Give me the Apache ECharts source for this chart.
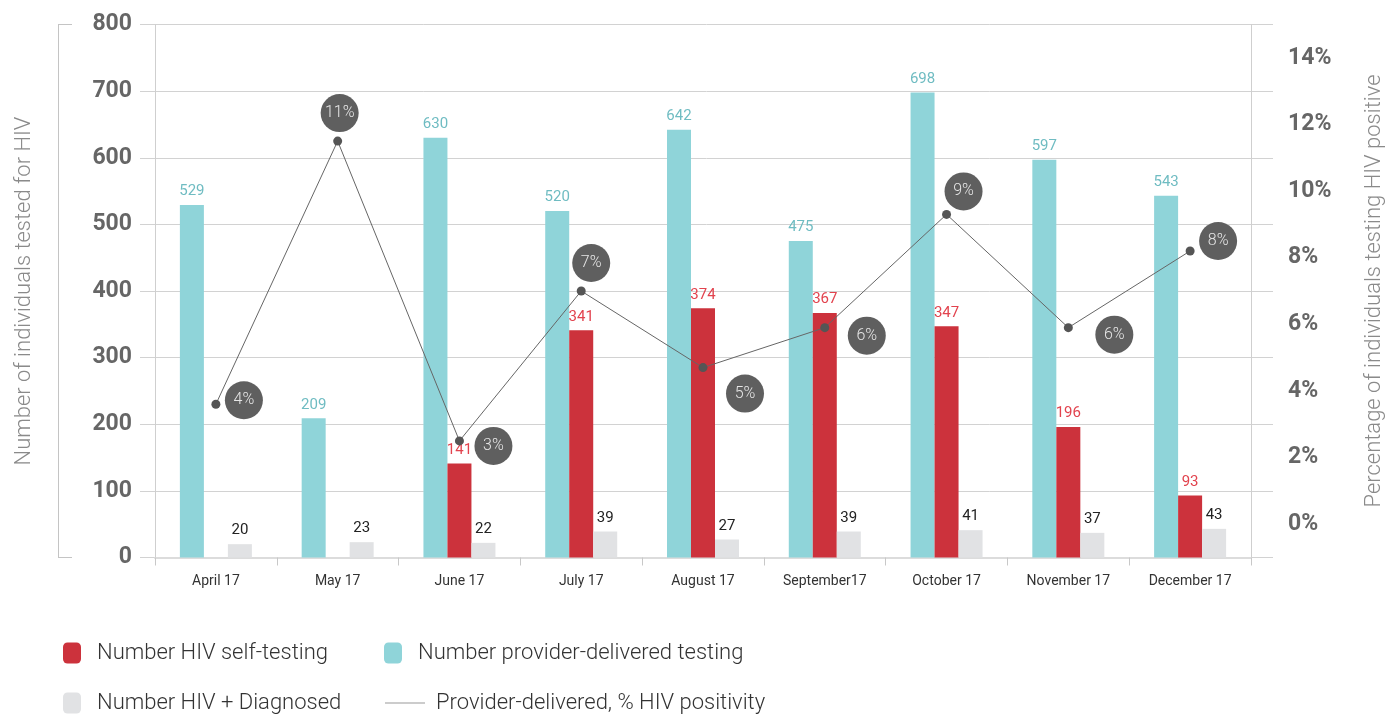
<!DOCTYPE html>
<html><head><meta charset="utf-8">
<script src="https://cdn.jsdelivr.net/npm/echarts@6/dist/echarts.min.js"></script>
<style>html,body{margin:0;padding:0;background:#fff}#c{width:1386px;height:715px}</style>
</head><body><div id="c"></div>
<script>
const categories = ['April 17','May 17','June 17','July 17','August 17','September17','October 17','November 17','December 17'];
const providerTesting = [529,209,630,520,642,475,698,597,543];
const selfTesting = [null,null,141,341,374,367,347,196,93];
const diagnosed = [20,23,22,39,27,39,41,37,43];
const positivityPct = [3.6,11.5,2.5,7.0,4.7,5.9,9.3,5.9,8.2];
const positivityLabels = ['4%','11%','3%','7%','5%','6%','9%','6%','8%'];
const rightTickValues = [0,2,4,6,8,10,12,14];

const seriesNames = {
  self: 'Number HIV self-testing',
  provider: 'Number provider-delivered testing',
  diag: 'Number HIV + Diagnosed',
  line: 'Provider-delivered, % HIV positivity'
};

// label placement of the percentage bubbles (pixel offsets from the point)
const bubbleOffsets = [[28,-4],[2,-28],[34,5],[10,-28],[42,26],[42,8],[17,-23],[46,7],[28,-10]];

const FONT = 'Roboto, "Liberation Sans", sans-serif';
const chart = echarts.init(document.getElementById('c'), null, {renderer:'canvas'});

const legendText = {fontSize:22, fontWeight:300, color:'#333', fontFamily:FONT, padding:[0,0,0,11]};

const option = {
  animation:false,
  backgroundColor:'#fff',
  textStyle:{fontFamily:FONT},
  grid:[
    {left:140, right:113, top:24.5, bottom:157.5, outerBoundsMode:'none', containLabel:false},
    {left:155, right:135, top:24.5, bottom:157.5, outerBoundsMode:'none', containLabel:false}
  ],
  legend:[
    {data:[seriesNames.self], left:63, top:642, itemWidth:18, itemHeight:21, padding:0, textStyle:legendText},
    {data:[seriesNames.provider], left:384, top:642, itemWidth:18, itemHeight:21, padding:0, textStyle:legendText},
    {data:[seriesNames.diag], left:63, top:692, itemWidth:18, itemHeight:21, padding:0, textStyle:legendText},
    {data:[{name:seriesNames.line, icon:'rect', itemStyle:{color:'#999'}}], left:385, top:692, itemWidth:40, itemHeight:1, padding:0, textStyle:Object.assign({}, legendText, {padding:[0,0,0,6]})}
  ],
  xAxis:[
    {type:'value', gridIndex:0, min:0, max:1, show:false},
    {type:'category', gridIndex:1, data:categories, boundaryGap:true,
     axisLine:{show:true, lineStyle:{color:'#dcdcdc', width:2}},
     axisTick:{show:true, length:8, lineStyle:{color:'#c8c8c8'}},
     axisLabel:{color:'#333', fontSize:14, margin:17, fontFamily:FONT}}
  ],
  yAxis:[
    {type:'value', gridIndex:0, min:0, max:800, interval:100,
     axisLine:{show:false}, axisTick:{show:false}, axisLabel:{show:false},
     splitLine:{show:true, interval:(i)=> i!==0, lineStyle:{color:'#d2d2d2', width:1}}},
    {type:'value', gridIndex:1, position:'left', min:0, max:800, interval:100,
     axisLine:{show:true, lineStyle:{color:'#cfcfcf'}}, axisTick:{show:false},
     splitLine:{show:false},
     axisLabel:{color:'#666', fontSize:23, fontWeight:'bold', margin:23, fontFamily:FONT},
     name:'Number of individuals tested for HIV', nameLocation:'middle', nameGap:120, nameRotate:90,
     nameTextStyle:{color:'#8a8a8a', fontSize:22, fontWeight:300, fontFamily:FONT}},
    {type:'value', gridIndex:1, position:'right', min:-1, max:15, interval:1,
     axisLine:{show:true, lineStyle:{color:'#cfcfcf'}}, axisTick:{show:false},
     splitLine:{show:false},
     axisLabel:{color:'#666', fontSize:23, fontWeight:'bold', margin:37, fontFamily:FONT,
       formatter:(v)=> rightTickValues.indexOf(v)>=0 ? v+'%' : ''},
     name:'Percentage of individuals testing HIV positive', nameLocation:'middle', nameGap:112, nameRotate:90,
     nameTextStyle:{color:'#8a8a8a', fontSize:22, fontWeight:300, fontFamily:FONT, verticalAlign:'top'}},
    {type:'value', gridIndex:1, position:'left', offset:97, min:0, max:800, interval:800,
     axisLine:{show:true, lineStyle:{color:'#c4c4c4'}},
     axisTick:{show:true, inside:true, length:14, lineStyle:{color:'#c4c4c4'}},
     axisLabel:{show:false}, splitLine:{show:false}}
  ],
  series:[
    {name:seriesNames.provider, type:'bar', xAxisIndex:1, yAxisIndex:1, data:providerTesting,
     barWidth:24, barGap:'0%', itemStyle:{color:'#8fd4d9'},
     label:{show:true, position:'top', distance:6, color:'#6fbcc2', fontSize:15, fontFamily:FONT}},
    {name:seriesNames.self, type:'bar', xAxisIndex:1, yAxisIndex:1, data:selfTesting,
     barWidth:24, barGap:'0%', itemStyle:{color:'#cc323c'},
     label:{show:true, position:'top', distance:6, color:'#e2434e', fontSize:15, fontFamily:FONT}},
    {name:seriesNames.diag, type:'bar', xAxisIndex:1, yAxisIndex:1, data:diagnosed,
     barWidth:24, barGap:'0%', itemStyle:{color:'#e1e2e4'},
     label:{show:true, position:'top', distance:6, color:'#222', fontSize:15, fontFamily:FONT}},
    {name:seriesNames.line, type:'line', xAxisIndex:1, yAxisIndex:2, z:5,
     data:positivityPct.map((v,i)=>({value:v, label:{offset:bubbleOffsets[i]}})),
     symbol:'circle', symbolSize:9, itemStyle:{color:'#555'},
     lineStyle:{color:'#666', width:1},
     label:{show:true, position:'inside', formatter:(p)=>positivityLabels[p.dataIndex],
       backgroundColor:'#5f5f5f', borderRadius:19, width:38, height:38, lineHeight:38,
       align:'center', verticalAlign:'middle', color:'#e6e6e6', fontSize:16, fontWeight:300, fontFamily:FONT}}
  ]
};
chart.setOption(option);
</script>
</body></html>
